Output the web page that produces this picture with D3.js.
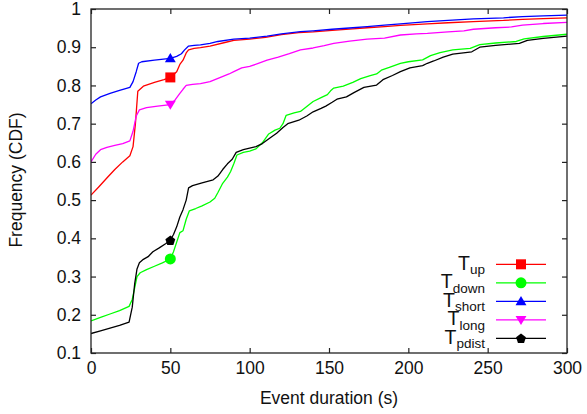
<!DOCTYPE html>
<html>
<head>
<meta charset="utf-8">
<script src="https://cdn.jsdelivr.net/npm/d3@7/dist/d3.min.js"></script>
<style>
  html, body { margin: 0; padding: 0; background: #fff; }
  svg { display: block; font-family: "Liberation Sans", Arial, Helvetica, sans-serif; }
</style>
</head>
<body>
<svg id="chart" width="587" height="414"></svg>
<script>
// Event-duration CDFs, [seconds, cumulative frequency]
const tUp = [[0,0.513],[5,0.535],[10,0.558],[15,0.58],[20,0.60],[24.5,0.616],[26.5,0.64],[28,0.70],[29.5,0.785],[33,0.798],[40,0.808],[46,0.815],[50,0.821],[54,0.836],[56,0.855],[58,0.866],[60,0.885],[61.5,0.893],[65,0.897],[69,0.899],[75,0.903],[85,0.913],[90,0.918],[100,0.921],[110,0.926],[120,0.933],[131,0.938],[140,0.940],[152,0.944],[165,0.948],[174,0.951],[185,0.954],[195,0.957],[212,0.961],[225,0.964],[241,0.967],[260,0.970],[272,0.973],[285,0.975],[300,0.977]];
const tDown = [[0,0.184],[6,0.193],[12,0.202],[18,0.211],[24,0.222],[26,0.24],[27.5,0.27],[29,0.30],[31,0.31],[35,0.318],[40,0.327],[45,0.336],[50,0.346],[52,0.365],[54,0.39],[56,0.415],[58,0.42],[60,0.45],[62,0.472],[66,0.478],[70,0.485],[75,0.495],[78,0.505],[80,0.52],[83,0.544],[86,0.56],[88,0.575],[90,0.595],[92,0.618],[96,0.625],[100,0.628],[104,0.634],[108,0.650],[112,0.673],[116,0.683],[119,0.688],[121,0.70],[123,0.722],[128,0.728],[132,0.732],[136,0.745],[140,0.758],[145,0.768],[149,0.776],[151,0.786],[153,0.793],[159,0.798],[165,0.808],[170,0.818],[176,0.826],[180,0.830],[183,0.840],[188,0.847],[195,0.858],[200,0.862],[209,0.867],[214,0.878],[220,0.886],[228,0.893],[239,0.897],[245,0.907],[255,0.911],[268,0.915],[273,0.922],[285,0.928],[300,0.934]];
const tShort = [[0,0.752],[3,0.762],[6,0.770],[12,0.779],[18,0.787],[24.5,0.795],[26.5,0.81],[28.5,0.836],[30,0.858],[32,0.862],[40,0.866],[50,0.871],[54,0.876],[57,0.883],[59,0.893],[61.5,0.903],[65,0.905],[69,0.906],[75,0.910],[80,0.915],[90,0.921],[100,0.924],[111,0.929],[120,0.935],[132,0.941],[140,0.943],[152,0.947],[165,0.951],[174,0.954],[185,0.958],[195,0.961],[212,0.967],[225,0.970],[241,0.974],[260,0.977],[272,0.980],[285,0.982],[300,0.984]];
const tLong = [[0,0.60],[3,0.62],[6,0.632],[10,0.638],[15,0.643],[20,0.648],[24.5,0.655],[26.5,0.68],[28.5,0.72],[30.5,0.736],[35,0.742],[42,0.746],[50,0.75],[53,0.762],[56,0.779],[58,0.79],[60,0.80],[64,0.803],[69,0.805],[75,0.810],[82,0.822],[87,0.830],[90,0.836],[95,0.846],[100,0.850],[105,0.857],[111,0.866],[118,0.874],[125,0.883],[132,0.893],[140,0.898],[147,0.904],[153,0.910],[163,0.916],[174,0.921],[185,0.924],[195,0.932],[205,0.935],[212,0.936],[225,0.940],[235,0.943],[241,0.947],[255,0.951],[265,0.953],[272,0.958],[285,0.962],[300,0.965]];
const tPdist = [[0,0.151],[6,0.158],[12,0.165],[18,0.172],[24,0.181],[26,0.22],[27.5,0.28],[29,0.32],[30.5,0.336],[33,0.345],[36,0.352],[39,0.365],[43,0.375],[47,0.386],[50,0.395],[52,0.41],[54,0.43],[56,0.456],[58,0.475],[60,0.5],[61.5,0.532],[64,0.538],[70,0.545],[77,0.553],[80,0.563],[83,0.58],[86,0.595],[89,0.607],[91.5,0.625],[96,0.632],[100,0.636],[104,0.640],[108,0.648],[113,0.663],[117,0.675],[121,0.69],[124,0.70],[131,0.709],[136,0.72],[140,0.731],[145,0.74],[148,0.746],[152,0.756],[155,0.764],[161,0.770],[166,0.782],[172,0.795],[180,0.801],[184,0.815],[190,0.826],[195,0.836],[201,0.846],[209,0.852],[212,0.858],[216,0.864],[222,0.874],[228,0.882],[240,0.888],[245,0.90],[255,0.905],[270,0.910],[275,0.918],[285,0.923],[300,0.929]];

// Legend names: main letter + subscript
const seriesNames = ["up", "down", "short", "long", "pdist"];
// Point marker placed on each curve at this duration
const markerX = [50, 50, 50, 50, 50];

const xTicks = [0, 50, 100, 150, 200, 250, 300];
const yTicks = [0.1, 0.2, 0.3, 0.4, 0.5, 0.6, 0.7, 0.8, 0.9, 1];

const series = [
  { name: seriesNames[0], data: tUp,    color: "#ff0000", symbol: d3.symbolSquare },
  { name: seriesNames[1], data: tDown,  color: "#00ff00", symbol: d3.symbolCircle },
  { name: seriesNames[2], data: tShort, color: "#0000ff", symbol: "triUp" },
  { name: seriesNames[3], data: tLong,  color: "#ff00ff", symbol: "triDown" },
  { name: seriesNames[4], data: tPdist, color: "#000000", symbol: "pentagon" }
];

const svg = d3.select("#chart");
const L = 91, R = 567, T = 9, B = 353;

const x = d3.scaleLinear().domain([0, 300]).range([L, R]);
const y = d3.scaleLinear().domain([0.1, 1]).range([B, T]);

svg.append("defs").append("clipPath").attr("id", "plotclip")
  .append("rect").attr("x", L).attr("y", T).attr("width", R - L).attr("height", B - T);

const tickLen = 5;
const frameColor = "#222";

// inward ticks on all four sides
const axB = d3.axisBottom(x).tickValues(xTicks).tickSize(-tickLen).tickPadding(9).tickFormat(d3.format("d"));
const axT = d3.axisTop(x).tickValues(xTicks).tickSize(-tickLen).tickFormat("");
const axL = d3.axisLeft(y).tickValues(yTicks).tickSize(-tickLen).tickPadding(10).tickFormat(d => d === 1 ? "1" : d3.format(".1f")(d));
const axR = d3.axisRight(y).tickValues(yTicks).tickSize(-tickLen).tickFormat("");

function styleAxis(g) {
  g.select(".domain").remove();
  g.selectAll(".tick line").attr("stroke", frameColor).attr("stroke-width", 1.2);
  g.selectAll(".tick text").attr("fill", "#111").style("font-size", "17.5px").style("font-family", "'Liberation Sans', Arial, sans-serif");
}

svg.append("g").attr("class", "x-bottom").attr("transform", `translate(0,${B})`).call(axB).call(styleAxis);
svg.append("g").attr("transform", `translate(0,${T})`).call(axT).call(styleAxis);
svg.append("g").attr("transform", `translate(${L},0)`).call(axL).call(styleAxis);
svg.append("g").attr("transform", `translate(${R},0)`).call(axR).call(styleAxis);

svg.selectAll(".x-bottom .tick text").attr("dy", "0.71em");

const line = d3.line().x(d => x(d[0])).y(d => y(d[1]));

const plot = svg.append("g").attr("clip-path", "url(#plotclip)");
series.forEach(s => {
  plot.append("path").datum(s.data)
    .attr("d", line)
    .attr("fill", "none")
    .attr("stroke", s.color)
    .attr("stroke-width", 1.3)
    .attr("stroke-linejoin", "round");
});

function symbolPath(sym, r) {
  if (sym === "triUp") {
    return `M0,${-r}L${r * 1.05},${r * 0.75}L${-r * 1.05},${r * 0.75}Z`;
  }
  if (sym === "triDown") {
    return `M0,${r}L${r * 1.05},${-r * 0.75}L${-r * 1.05},${-r * 0.75}Z`;
  }
  if (sym === "pentagon") {
    const pts = d3.range(5).map(i => {
      const a = -Math.PI / 2 + i * 2 * Math.PI / 5;
      return [r * Math.cos(a), r * Math.sin(a) + 0.5];
    });
    return "M" + pts.map(p => p.join(",")).join("L") + "Z";
  }
  if (sym === d3.symbolSquare) return d3.symbol().type(sym).size(100)();
  return d3.symbol().type(sym).size(95)();
}

// markers on the curves
series.forEach((s, i) => {
  const mx = markerX[i];
  const pt = s.data.find(d => d[0] === mx);
  svg.append("path")
    .attr("d", symbolPath(s.symbol, 5.2))
    .attr("transform", `translate(${x(pt[0])},${y(pt[1])})`)
    .attr("fill", s.color);
});

// frame
svg.append("rect").attr("x", L).attr("y", T).attr("width", R - L).attr("height", B - T)
  .attr("fill", "none").attr("stroke", frameColor).attr("stroke-width", 1.3);

// axis titles
svg.append("text").attr("x", (L + R) / 2).attr("y", 404).attr("text-anchor", "middle")
  .style("font-size", "17.5px").attr("fill", "#111").text("Event duration (s)");
svg.append("text").attr("transform", "translate(21.5,180) rotate(-90)").attr("text-anchor", "middle")
  .style("font-size", "17.5px").attr("fill", "#111").text("Frequency (CDF)");

// legend
const legX0 = 496, legX1 = 546, legMid = 521, legTextX = 485;
const legY0 = 264.3, legStep = 18.5;
series.forEach((s, i) => {
  const ly = legY0 + i * legStep;
  svg.append("line").attr("x1", legX0).attr("x2", legX1).attr("y1", ly).attr("y2", ly)
    .attr("stroke", s.color).attr("stroke-width", 1.2);
  svg.append("path").attr("d", symbolPath(s.symbol, 5.2))
    .attr("transform", `translate(${legMid},${ly})`).attr("fill", s.color);
  const t = svg.append("text").attr("x", legTextX).attr("y", ly + 5.5).attr("text-anchor", "end").attr("fill", "#111");
  t.append("tspan").style("font-size", "19.5px").text("T");
  t.append("tspan").style("font-size", "13.5px").attr("dy", 4.3).text(s.name);
});
</script>
</body>
</html>
